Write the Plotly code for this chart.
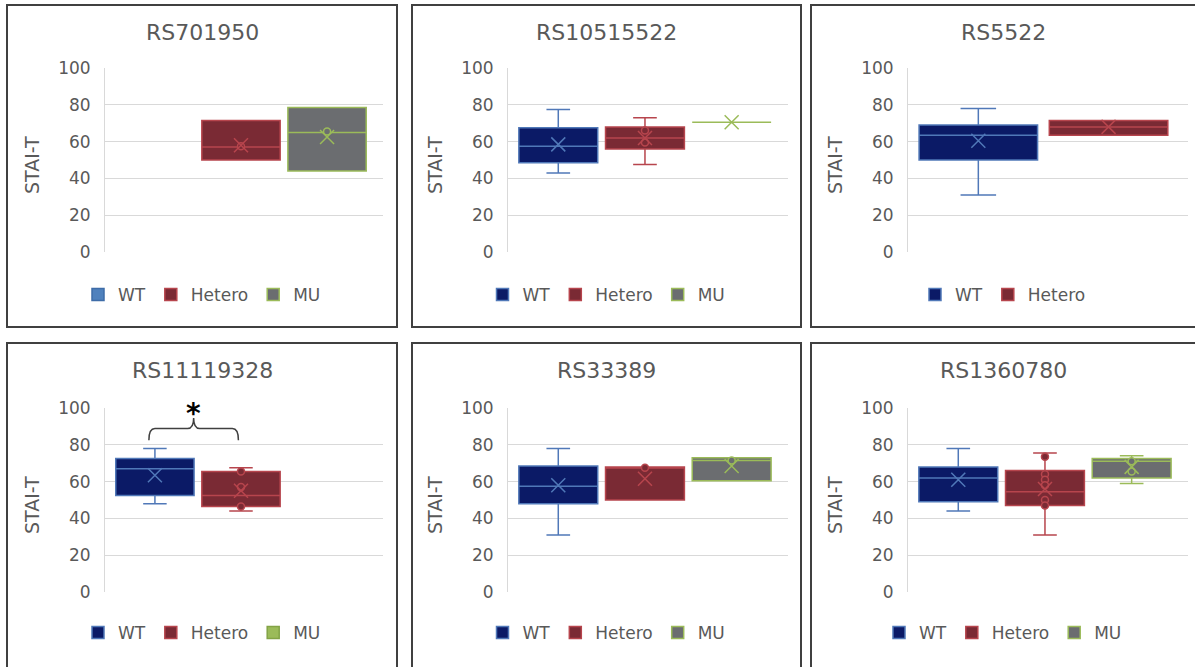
import plotly.graph_objects as go

W, H = 1195, 667

TITLES = ["RS701950", "RS10515522", "RS5522", "RS11119328", "RS33389", "RS1360780"]
GROUPS = ["WT", "Hetero", "MU"]
LEGEND_GROUPS = [GROUPS, GROUPS, ["WT", "Hetero"], GROUPS, GROUPS, GROUPS]

# STAI-T summaries per panel, ordered WT / Hetero / MU (None = no samples)
LOWER = [[None, 50, 44], [43, 47.5, 70.5], [31, 63.5, None],
         [48, 44, None], [31, 50, 60.5], [44, 31, 59]]
Q1 = [[None, 50, 44], [48.5, 56, 70.5], [50, 63.5, None],
      [52.5, 46.5, None], [48, 50, 60.5], [49, 47, 62]]
MEDIAN = [[None, 57, 65], [57.5, 62, 70.5], [63.5, 68, None],
          [67, 52.5, None], [57.5, 68, 71.5], [62, 54.5, 71]]
Q3 = [[None, 71.5, 78.5], [67.5, 68, 70.5], [69, 71.5, None],
      [72.5, 65.5, None], [68.5, 68, 73], [68, 66, 72.5]]
UPPER = [[None, 71.5, 78.5], [77.5, 73, 70.5], [78, 71.5, None],
         [78, 67.5, None], [78, 68, 73], [78, 75.5, 74]]
MEAN = [[None, 58, 62.5], [58.5, 62, 70.5], [60.5, 68, None],
        [63.5, 55, None], [58, 61.5, 68.5], [61, 56, 68]]
POINTS = [[[], [57.5], [65.5]], [[], [66, 59.5], []], [[], [], []],
          [[], [65.5, 57, 46.5], []], [[], [67.5], [71.5]],
          [[], [73.5, 64, 61, 58, 50, 47], [71, 65.5]]]

Y_TICKS = [0, 20, 40, 60, 80, 100]

FILL = {"WT": "#0b1a66", "Hetero": "#7a2a34", "MU": "#6b6d70"}
LINE = {"WT": "#5078b8", "Hetero": "#b7454d", "MU": "#9bbb59"}
# swatch used in a legend when the genotype has no samples in that panel
EMPTY_SWATCH = {"WT": ("#4f81bd", "#3e6ca8"), "Hetero": ("#c0504d", "#a03c3a"),
                "MU": ("#9bbb59", "#83a346")}

TEXT = "#595959"
FONT = "DejaVu Sans"
GRID = "#d9d9d9"

# pixel geometry of the 2x3 panel grid
PLOT_X = [(105, 383), (508, 788), (908, 1188)]
PLOT_Y = [(68, 252), (408, 592)]
FRAME_X = [(7, 397), (412, 801), (811, 1205)]
FRAME_Y = [(5, 327), (343, 675)]
X_RANGE = {3: [-0.58, 2.65], 2: [-0.54, 1.61]}
BOX_W = 0.91


def px(x):
    return x / W


def py(y):
    return 1 - y / H


fig = go.Figure()
layout = dict(width=W, height=H,
              margin=dict(l=0, r=0, t=0, b=0, pad=0, autoexpand=False),
              paper_bgcolor="white", plot_bgcolor="white",
              hovermode=False, showlegend=True, shapes=[], annotations=[])

for i, title in enumerate(TITLES):
    row, col = divmod(i, 3)
    sfx = "" if i == 0 else str(i + 1)
    xa, ya = "x" + sfx, "y" + sfx
    leg = "legend" + sfx
    groups = LEGEND_GROUPS[i]
    n = len(groups)

    for j, g in enumerate(groups):
        if Q1[i][j] is not None:
            fig.add_trace(go.Box(
                x=[j], q1=[Q1[i][j]], median=[MEDIAN[i][j]], q3=[Q3[i][j]],
                lowerfence=[LOWER[i][j]], upperfence=[UPPER[i][j]],
                width=BOX_W, whiskerwidth=0.3, boxpoints=False,
                fillcolor=FILL[g], line=dict(color=LINE[g], width=1.5),
                showlegend=False, xaxis=xa, yaxis=ya))
            pts = POINTS[i][j]
            if pts:
                fig.add_trace(go.Scatter(
                    x=[j] * len(pts), y=pts, mode="markers",
                    marker=dict(symbol="circle", size=7, color=FILL[g],
                                line=dict(color=LINE[g], width=1.5)),
                    showlegend=False, xaxis=xa, yaxis=ya))
            fig.add_trace(go.Scatter(
                x=[j], y=[MEAN[i][j]], mode="markers",
                marker=dict(symbol="x-thin", size=14,
                            line=dict(color=LINE[g], width=1.5)),
                showlegend=False, xaxis=xa, yaxis=ya))
            sw_fill, sw_line = FILL[g], LINE[g]
        else:
            sw_fill, sw_line = EMPTY_SWATCH[g]
        # legend swatch
        fig.add_trace(go.Scatter(
            x=[None], y=[None], mode="markers", name=g,
            marker=dict(symbol="square", size=12, color=sw_fill,
                        line=dict(color=sw_line, width=1.5)),
            legend=leg, xaxis=xa, yaxis=ya))

    x0, x1 = PLOT_X[col]
    y0, y1 = PLOT_Y[row]
    layout["xaxis" + sfx] = dict(
        domain=[px(x0), px(x1)], range=X_RANGE[n], anchor=ya,
        showticklabels=False, showgrid=False, zeroline=False,
        showline=False, fixedrange=True)
    layout["yaxis" + sfx] = dict(
        domain=[py(y1), py(y0)], range=[0, 100], anchor=xa,
        tickvals=Y_TICKS, showgrid=True, gridcolor=GRID, gridwidth=1,
        zeroline=False, showline=True, linecolor=GRID, linewidth=1,
        ticks="", ticklabelstandoff=10, automargin=False,
        tickfont=dict(family=FONT, size=17, color=TEXT), fixedrange=True)

    fx0, fx1 = FRAME_X[col]
    fy0, fy1 = FRAME_Y[row]
    cx = (fx0 + min(fx1, 1195 + 4)) / 2 if col < 2 else 1003
    layout["shapes"].append(dict(
        type="rect", xref="paper", yref="paper",
        x0=px(fx0), x1=px(fx1), y0=py(fy1), y1=py(fy0),
        line=dict(color="#404040", width=2), fillcolor="rgba(0,0,0,0)"))

    layout["annotations"].append(dict(
        text=title, xref="paper", yref="paper", x=px(cx),
        y=py(fy0 + 27), xanchor="center", yanchor="middle", showarrow=False,
        font=dict(family=FONT, size=22, color=TEXT)))
    layout["annotations"].append(dict(
        text="STAI-T", xref="paper", yref="paper", textangle=-90,
        x=px(x0 - 73), y=py((y0 + y1) / 2 + 5), xanchor="center",
        yanchor="middle", showarrow=False,
        font=dict(family=FONT, size=19, color=TEXT)))

    layout[leg] = dict(
        orientation="h", x=px(cx), xanchor="center",
        y=py(fy0 + 290), yanchor="middle", bgcolor="rgba(0,0,0,0)",
        font=dict(family=FONT, size=17, color=TEXT), itemclick=False,
        itemdoubleclick=False, tracegroupgap=0)

# significance bracket between WT and Hetero in RS11119328
layout["shapes"].append(dict(
    type="path", xref="x4", yref="y4",
    path=("M -0.07,82.5 Q -0.07,88.8 0.0,88.8 L 0.38,88.8 "
          "Q 0.45,88.8 0.45,94.5 Q 0.45,88.8 0.52,88.8 "
          "L 0.90,88.8 Q 0.97,88.8 0.97,82.5"),
    line=dict(color="#404040", width=1.5)))
layout["annotations"].append(dict(
    text="<b>*</b>", xref="x4", yref="y4", x=0.45, y=97,
    xanchor="center", yanchor="middle", showarrow=False,
    font=dict(family=FONT, size=28, color="black")))

fig.update_layout(**layout)
fig.write_html("out.html")
